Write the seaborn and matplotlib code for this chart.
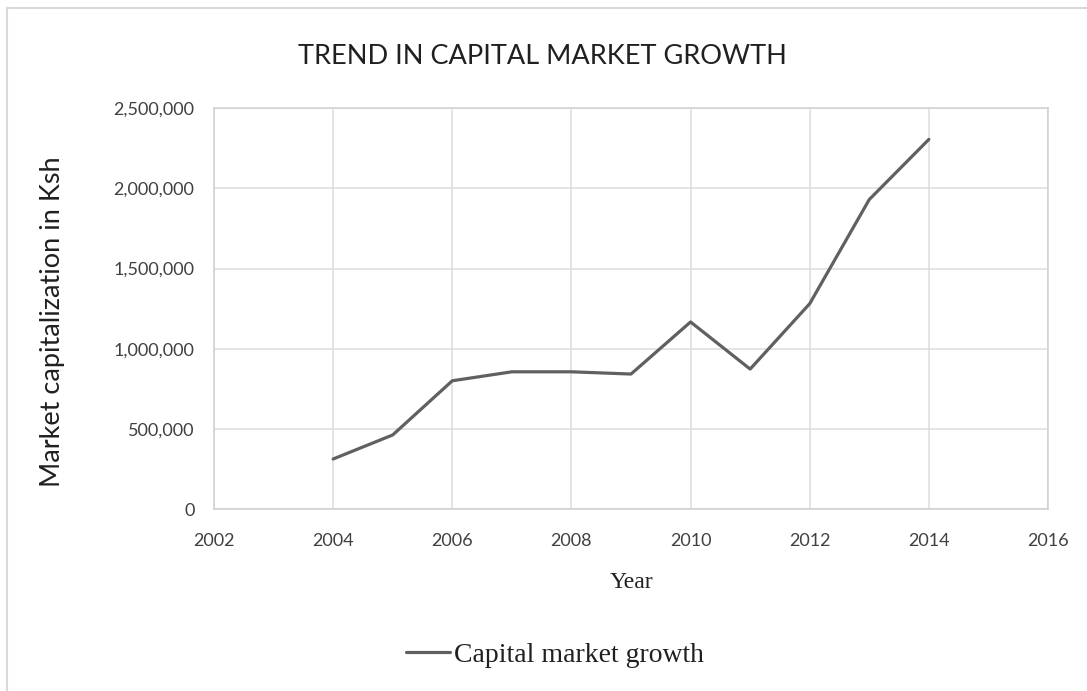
import matplotlib
matplotlib.use("Agg")
import matplotlib.pyplot as plt
from matplotlib.patches import Rectangle
from matplotlib.ticker import FuncFormatter, MultipleLocator
import pandas as pd
import seaborn as sns

# Market capitalisation (Ksh) by year
years = [2004, 2005, 2006, 2007, 2008, 2009, 2010, 2011, 2012, 2013, 2014]
market_cap = [312000, 462000, 800000, 856000, 856000, 842000,
              1167000, 873000, 1281000, 1931000, 2306000]
series_name = "Capital market growth"

df = pd.DataFrame({"Year": years, "Market capitalization": market_cap,
                   "Series": series_name})

sns.set_theme(style="whitegrid")
plt.rcParams["font.family"] = ["Lato", "DejaVu Sans"]

W, H = 1087, 691
fig = plt.figure(figsize=(W / 100, H / 100), dpi=100)
fig.patch.set_facecolor("white")

# outer chart-area frame
fig.add_artist(Rectangle((7 / W, -0.05), 1.2, 1 - 8 / H + 0.05,
                         transform=fig.transFigure, fill=False,
                         edgecolor="#d9d9d9", linewidth=1.5))

ax = fig.add_axes([214 / W, 1 - 509 / H, (1048 - 214) / W, (509 - 108.3) / H])

line_color = "#606060"
sns.lineplot(data=df, x="Year", y="Market capitalization", hue="Series",
             palette=[line_color], linewidth=2.3, ax=ax, legend=True)

ax.set_xlim(2002, 2016)
ax.set_ylim(0, 2500000)
ax.xaxis.set_major_locator(MultipleLocator(2))
ax.yaxis.set_major_locator(MultipleLocator(500000))
ax.yaxis.set_major_formatter(FuncFormatter(lambda v, p: f"{int(v):,}"))

ax.grid(True, color="#dcdcdc", linewidth=1.1)
for s in ax.spines.values():
    s.set_visible(True)
    s.set_color("#d0d0d0")
    s.set_linewidth(1.1)

ax.tick_params(axis="x", length=0, pad=17, labelsize=13, labelcolor="#404040")
ax.tick_params(axis="y", length=0, pad=14, labelsize=13, labelcolor="#404040")

ax.set_xlabel("Year", family=["Liberation Serif", "DejaVu Serif"],
              fontsize=17, color="#202020", labelpad=17)
ax.set_ylabel("")
fig.text(53 / W, 1 - 322 / H, "Market capitalization in Ksh", rotation=90,
         ha="center", va="center", fontsize=19.5, color="#202020")

fig.text(0.499, 1 - 57 / H, "TREND IN CAPITAL MARKET GROWTH", ha="center",
         va="center", fontsize=19.5, color="#202020")

leg = ax.legend(loc="center", bbox_to_anchor=(555 / W, 1 - 655 / H),
                bbox_transform=fig.transFigure, frameon=False,
                handlelength=1.6, handletextpad=0.15,
                prop={"family": ["Liberation Serif", "DejaVu Serif"], "size": 20})
for t in leg.get_texts():
    t.set_color("#202020")
for h in leg.get_lines():
    h.set_linewidth(2.3)

fig.savefig("out.png", dpi=100)
